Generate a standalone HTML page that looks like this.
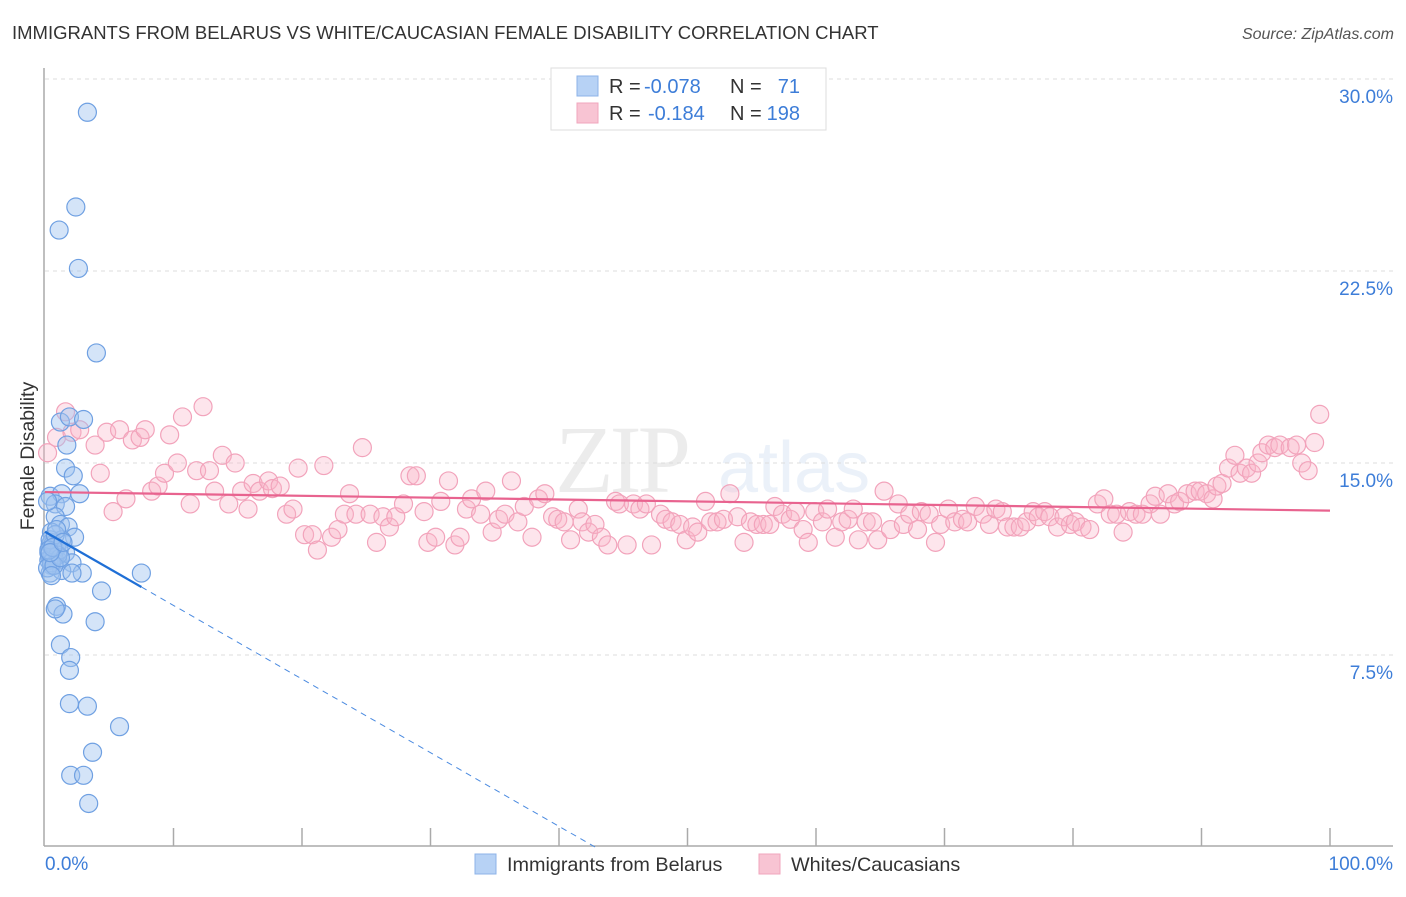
<!DOCTYPE html>
<html><head><meta charset="utf-8"><style>
body{margin:0;background:#fff;font-family:"Liberation Sans",sans-serif;}
</style></head><body>
<svg width="1406" height="892" viewBox="0 0 1406 892" xmlns="http://www.w3.org/2000/svg">
<text x="12" y="39" font-size="18.5" fill="#333">IMMIGRANTS FROM BELARUS VS WHITE/CAUCASIAN FEMALE DISABILITY CORRELATION CHART</text>
<text x="1394" y="39" font-size="16" fill="#555" font-style="italic" text-anchor="end">Source: ZipAtlas.com</text>
<g opacity="0.13">
<text x="555" y="492" font-size="96" font-family="Liberation Serif,serif" fill="#777" letter-spacing="-4">ZIP</text>
<text x="718" y="492" font-size="72" fill="#6a9ad8">atlas</text>
</g>
<g id="grid"></g>
<g id="axes"></g>
<g id="marks"></g>
<g>
<rect x="551" y="68" width="275" height="62" fill="#fff" stroke="#ddd"/>
<rect x="577" y="76" width="21" height="20" fill="#b7d2f5" stroke="#8cb3e8"/>
<rect x="577" y="103" width="21" height="20" fill="#f8c4d3" stroke="#f0a6bd"/>
<text x="609" y="93" font-size="20" fill="#333">R =</text>
<text x="644" y="93" font-size="20" fill="#3d7dd8">-0.078</text>
<text x="730" y="93" font-size="20" fill="#333">N =</text>
<text x="800" y="93" font-size="20" fill="#3d7dd8" text-anchor="end">71</text>
<text x="609" y="120" font-size="20" fill="#333">R =</text>
<text x="648" y="120" font-size="20" fill="#3d7dd8">-0.184</text>
<text x="730" y="120" font-size="20" fill="#333">N =</text>
<text x="800" y="120" font-size="20" fill="#3d7dd8" text-anchor="end">198</text>
</g>
<g>
<rect x="475" y="854" width="21" height="20" fill="#b7d2f5" stroke="#8cb3e8"/>
<text x="507" y="871" font-size="19.8" fill="#333">Immigrants from Belarus</text>
<rect x="759" y="854" width="21" height="20" fill="#f8c4d3" stroke="#f0a6bd"/>
<text x="791" y="871" font-size="19.8" fill="#333">Whites/Caucasians</text>
</g>
<text x="45" y="870" font-size="19" fill="#3d7dd8">0.0%</text>
<text x="1393" y="870" font-size="19" fill="#3d7dd8" text-anchor="end">100.0%</text>
<text transform="translate(34,456) rotate(-90)" font-size="19.5" fill="#333" text-anchor="middle">Female Disability</text>
</svg>
<script>
const yTicks=[7.5,15,22.5,30];
const yTickLabels=["7.5%","15.0%","22.5%","30.0%"];
const xTicks=[10,20,30,40,50,60,70,80,90,100];
const blueX=[3.3,2.4,1.1,2.6,4.0,1.2,1.9,3.0,1.7,1.6,2.2,0.4,1.3,2.7,0.8,1.6,0.8,1.2,1.8,0.5,2.3,1.3,0.4,0.8,1.6,0.4,1.0,0.5,2.1,0.4,1.3,2.9,7.5,2.1,4.4,0.9,1.4,3.9,1.2,2.0,1.9,1.9,3.3,5.8,3.7,2.0,3.0,3.4,0.3,0.6,0.9,0.5,0.7,1.1,0.3,0.6,1.0,0.4,0.8,0.5,0.2,0.7,1.2,0.3,0.9,0.5,0.6,0.4,1.4,0.2,0.8];
const blueY=[28.7,25.0,24.1,22.6,19.3,16.6,16.8,16.7,15.7,14.8,14.5,13.7,13.8,13.8,13.4,13.3,12.9,12.6,12.5,12.3,12.1,12.0,11.8,11.6,11.5,11.3,11.2,11.0,11.1,10.7,10.8,10.7,10.7,10.7,10.0,9.4,9.1,8.8,7.9,7.4,6.9,5.6,5.5,4.7,3.7,2.8,2.8,1.7,11.5,11.4,11.7,11.9,11.3,11.6,11.2,11.8,11.4,12.0,12.2,11.1,10.9,11.0,11.3,11.6,12.4,10.6,11.7,11.5,11.9,13.5,9.3];
const pinkX=[0.2,0.9,1.6,2.1,2.7,3.9,4.3,4.8,5.3,5.8,6.3,6.8,7.4,7.8,8.3,8.8,9.3,9.7,10.3,10.7,11.3,11.8,12.3,12.8,13.2,13.8,14.3,14.8,15.3,15.8,16.2,16.7,17.4,17.7,18.3,18.8,19.3,19.7,20.2,20.8,21.2,21.7,22.3,22.8,23.3,23.7,24.2,24.7,25.3,25.8,26.3,26.8,27.3,27.9,28.4,28.9,29.5,29.8,30.4,30.8,31.4,31.9,32.3,32.8,33.2,33.9,34.3,34.8,35.3,35.8,36.3,36.8,37.3,37.9,38.4,38.9,39.5,39.9,40.4,40.9,41.5,41.8,42.3,42.8,43.3,43.8,44.4,44.7,45.3,45.8,46.3,46.8,47.2,47.9,48.3,48.8,49.4,49.9,50.4,50.8,51.4,51.8,52.3,52.8,53.3,53.9,54.4,54.9,55.4,55.9,56.4,56.8,57.4,58.0,58.4,59.0,59.4,59.9,60.5,60.9,61.5,62.0,62.5,62.9,63.3,63.9,64.4,64.8,65.3,65.8,66.4,66.8,67.3,67.9,68.2,68.8,69.3,69.7,70.3,70.8,71.4,71.8,72.4,73.0,73.5,74.0,74.5,74.9,75.4,75.9,76.4,76.9,77.3,77.8,78.2,78.8,79.3,79.8,80.2,80.7,81.3,81.9,82.4,82.9,83.4,83.9,84.4,84.9,85.4,86.0,86.4,86.8,87.4,87.9,88.3,88.9,89.5,89.9,90.4,90.9,91.2,91.6,92.1,92.6,93.0,93.5,93.9,94.4,94.7,95.2,95.7,96.1,96.9,97.4,97.8,98.3,98.8,99.2];
const pinkY=[15.4,16.0,17.0,16.2,16.3,15.7,14.6,16.2,13.1,16.3,13.6,15.9,16.0,16.3,13.9,14.1,14.6,16.1,15.0,16.8,13.4,14.7,17.2,14.7,13.9,15.3,13.4,15.0,13.9,13.2,14.2,13.9,14.3,14.0,14.1,13.0,13.2,14.8,12.2,12.2,11.6,14.9,12.1,12.4,13.0,13.8,13.0,15.6,13.0,11.9,12.9,12.5,12.9,13.4,14.5,14.5,13.1,11.9,12.1,13.5,14.3,11.8,12.1,13.2,13.6,13.0,13.9,12.3,12.8,13.0,14.3,12.7,13.3,12.1,13.6,13.8,12.9,12.8,12.7,12.0,13.2,12.7,12.3,12.6,12.1,11.8,13.5,13.4,11.8,13.4,13.2,13.4,11.8,13.0,12.8,12.7,12.6,12.0,12.5,12.3,13.5,12.7,12.7,12.8,13.8,12.9,11.9,12.7,12.6,12.6,12.6,13.3,13.0,12.8,13.1,12.4,11.9,13.1,12.7,13.2,12.1,12.7,12.8,13.2,12.0,12.7,12.7,12.0,13.9,12.4,13.4,12.6,13.0,12.4,13.1,13.0,11.9,12.6,13.2,12.7,12.8,12.7,13.3,13.0,12.6,13.2,13.1,12.5,12.5,12.5,12.7,13.1,12.9,13.1,12.9,12.5,12.9,12.6,12.7,12.5,12.4,13.4,13.6,13.0,13.0,12.3,13.1,13.0,13.0,13.4,13.7,13.0,13.8,13.4,13.5,13.8,13.9,13.9,13.8,13.6,14.1,14.2,14.8,15.3,14.6,14.8,14.6,15.0,15.4,15.7,15.6,15.7,15.6,15.7,15.0,14.7,15.8,16.9];

const NS='http://www.w3.org/2000/svg';
const X0=45,X1=1330,YB=847,PX=25.6;
function sx(v){return X0+(X1-X0)*v/100;}
function sy(v){return YB-v*PX;}
function mk(tag,attrs,parent){const e=document.createElementNS(NS,tag);for(const k in attrs)e.setAttribute(k,attrs[k]);parent.appendChild(e);return e;}
const grid=document.getElementById('grid'),axes=document.getElementById('axes'),marks=document.getElementById('marks');
yTicks.forEach((t,i)=>{
  const l=mk('line',{x1:45,x2:1393,y1:sy(t),y2:sy(t),stroke:'#ddd','stroke-dasharray':'4 4'},grid);
  
  
  const tx=mk('text',{x:1393,y:sy(t)+24,'font-size':19,fill:'#3d7dd8','text-anchor':'end'},grid);
  tx.textContent=yTickLabels[i];
  
  
});
const ya=mk('line',{x1:44,x2:44,y1:68,y2:846,stroke:'#aaa','stroke-width':1.5},axes);


const xa=mk('line',{x1:44,x2:1393,y1:846,y2:846,stroke:'#aaa','stroke-width':1.5},axes);


xTicks.forEach(t=>{
  const l=mk('line',{x1:sx(t),x2:sx(t),y1:828,y2:846,stroke:'#aaa','stroke-width':1.5},axes);
  
  
});
function pts(xs,ys,fill,stroke,name){
  xs.forEach((x,i)=>{
    const c=mk('circle',{cx:sx(x),cy:sy(ys[i]),r:9,fill:fill,stroke:stroke,'stroke-width':1.2},marks);
    
    
  });
}
pts(pinkX,pinkY,'rgba(248,180,200,0.35)','#f2a3bb','point-whites');
pts(blueX,blueY,'rgba(160,196,240,0.45)','#6fa0e2','point-belarus');
function fit(xs,ys){const n=xs.length;let mx=0,my=0;xs.forEach((x,i)=>{mx+=x;my+=ys[i];});mx/=n;my/=n;let a=0,b=0;xs.forEach((x,i)=>{a+=(x-mx)*(ys[i]-my);b+=(x-mx)*(x-mx);});const s=a/b;return [my-s*mx,s];}
const pf=fit(pinkX,pinkY);
const pl=mk('line',{x1:sx(0),y1:sy(pf[0]),x2:sx(100),y2:sy(pf[0]+pf[1]*100),stroke:'#e8638f','stroke-width':2.2},marks);


const bf=fit(blueX,blueY);
const bmax=Math.max(...blueX);
const bl=mk('line',{x1:sx(0),y1:sy(bf[0]),x2:sx(bmax),y2:sy(bf[0]+bf[1]*bmax),stroke:'#1f6fd6','stroke-width':2.2},marks);


const xz=bf[1]<0?Math.min(100,-bf[0]/bf[1]):100;
const bd=mk('line',{x1:sx(bmax),y1:sy(bf[0]+bf[1]*bmax),x2:sx(xz),y2:sy(bf[0]+bf[1]*xz),stroke:'#4a8ae0','stroke-width':1,'stroke-dasharray':'6 5'},marks);


</script>
</body></html>
